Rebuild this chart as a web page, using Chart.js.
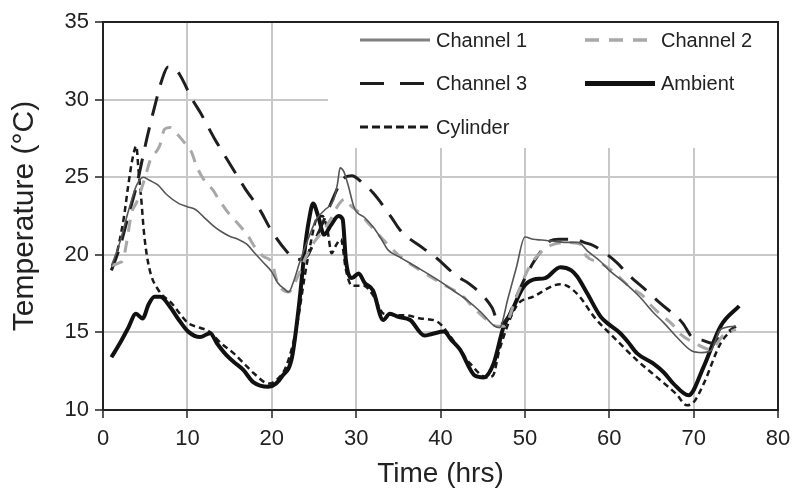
<!DOCTYPE html>
<html>
<head>
<meta charset="utf-8">
<script src="https://cdn.jsdelivr.net/npm/chart.js@4/dist/chart.umd.min.js"></script>
<style>
  html, body { margin: 0; padding: 0; background: #fff; }
  #wrap { position: relative; width: 793px; height: 497px; }
</style>
</head>
<body>
<div id="wrap"><canvas id="tempChart" width="793" height="497"></canvas></div>
<script>
// series (time in hrs, temperature in degC)
const ch1Time = [1, 2, 3, 4, 4.8, 5.5, 6.5, 7.5, 9, 10, 11, 12, 13, 14, 15, 16, 17, 18, 19, 20, 20.7, 21.5, 22, 22.6, 23.3, 24.3, 25.3, 26.3, 27.3, 27.8, 28.1, 28.5, 29, 29.8, 31, 32, 33, 33.8, 35, 37.2, 39.9, 41.5, 43.1, 44.8, 46.4, 47, 48, 49, 50, 51, 52, 53.8, 55, 56.3, 57.5, 58.9, 60, 61.6, 63.6, 65.2, 66.5, 68, 69.8, 71, 72, 73.2, 75];
const ch1Temp = [19.3, 20.8, 22.8, 24.5, 25.0, 24.8, 24.5, 23.9, 23.3, 23.1, 22.9, 22.4, 21.9, 21.5, 21.2, 21.0, 20.7, 20.1, 19.5, 18.9, 18.2, 17.8, 17.6, 18.3, 19.5, 21.0, 22.3, 22.9, 23.5, 24.6, 25.6, 25.4, 24.6, 23.0, 22.4, 21.8, 21.0, 20.3, 19.9, 19.2, 18.3, 17.7, 17.1, 16.3, 15.4, 15.3, 17.2, 19.2, 21.15, 21.0, 20.95, 20.85, 20.8, 20.8, 20.2, 19.6, 19.0, 18.3, 17.3, 16.3, 15.6, 14.7, 13.8, 13.7, 13.8, 15.2, 15.4];

const ch2Time = [1, 2, 2.4, 2.8, 3.4, 4, 5, 5.6, 6.7, 7.3, 8, 8.6, 9.7, 10.5, 11.1, 12, 13, 13.8, 15, 16, 17.2, 18, 19, 20, 20.7, 22, 23, 24, 25, 26, 27, 28, 28.7, 29.3, 30.4, 31.5, 33, 35, 37.6, 40, 42.7, 43.9, 45.5, 46.7, 47.5, 49, 50.5, 51.6, 53, 55, 56.5, 57.3, 58.9, 60.5, 62.5, 63.9, 65.2, 66, 67.5, 68.4, 70.2, 72, 73.5, 75];
const ch2Temp = [19.3, 19.5, 19.7, 20.8, 22.7, 23.4, 25.0, 26.1, 27.0, 28.1, 28.2, 27.9, 27.2, 26.6, 25.7, 24.8, 24.2, 23.5, 22.6, 22.0, 21.2, 20.5, 19.9, 19.5, 18.2, 17.6, 18.5, 19.8, 20.8, 21.5, 22.3, 23.3, 23.6, 23.2, 22.7, 22.0, 21.1, 20.0, 19.0, 18.2, 17.3, 16.6, 15.8, 15.4, 15.4, 17.3, 19.2, 20.0, 20.6, 20.8, 20.7, 19.9, 19.5, 18.9, 17.9, 17.4, 16.6, 16.2, 15.5, 14.9, 14.3, 13.9, 14.8, 15.2];

const ch3Time = [1, 2, 3, 4, 4.6, 5.2, 6.1, 7, 7.7, 8.5, 9.1, 10.6, 11.5, 13.2, 14.2, 16, 16.8, 18.7, 19.8, 21.8, 23, 24, 25, 26, 27, 28, 28.7, 29.5, 30.8, 32, 34.2, 35.2, 38, 39.3, 42, 43.5, 46.1, 47, 48, 49, 50, 51, 52, 53, 54, 55, 56, 57, 58.1, 60.9, 62.1, 64.6, 66, 68.7, 69.8, 71, 72.2, 73, 74, 75];
const ch3Temp = [19.0, 20.5, 22.5, 24.5, 26.0, 27.5, 29.5, 31.3, 32.1, 32.0, 31.6, 30.0, 29.2, 27.5, 26.6, 25.0, 24.3, 22.8, 21.7, 20.2, 19.7, 19.8, 20.8, 22.0, 23.3, 24.5, 25.0, 25.1, 24.6, 24.0, 22.4, 21.6, 20.4, 19.9, 18.6, 18.1, 16.6, 15.5, 16.0, 17.3, 18.5, 19.5, 20.3, 20.9, 21.0, 21.0, 21.0, 20.8, 20.6, 19.5, 18.8, 17.6, 16.9, 15.6, 14.7, 14.5, 14.3, 14.6, 15.0, 15.4];

const ambTime = [1, 2, 3, 3.9, 4.7, 5.4, 6.1, 6.8, 8, 9, 10.1, 11.5, 12.7, 13.5, 14.6, 15.5, 16.6, 17.8, 19.6, 20.5, 21.2, 22.4, 23.3, 23.9, 24.4, 24.9, 25.5, 26.2, 27, 27.9, 28.4, 28.8, 29.5, 30.3, 31, 32, 33.2, 34, 35, 36.4, 38.1, 39, 40.4, 41.3, 42.3, 44.1, 45.1, 46.3, 47.5, 48.3, 49.8, 51, 52.4, 54.2, 55.5, 56.2, 57.4, 59, 60, 61.3, 62.2, 63.3, 65.2, 66.5, 67.6, 69.4, 71.2, 73.2, 75.4];
const ambTemp = [13.4, 14.3, 15.3, 16.2, 15.9, 16.8, 17.3, 17.3, 16.6, 15.8, 15.05, 14.7, 14.95, 14.3, 13.55, 13.1, 12.6, 11.8, 11.5, 11.7, 12.15, 13.4, 17.1, 20.3, 22.2, 23.3, 22.5, 21.3, 21.9, 22.5, 22.3, 19.6, 18.5, 18.8, 18.2, 17.7, 15.8, 16.2, 16.0, 15.8, 14.8, 14.9, 15.05, 14.5, 13.9, 12.2, 12.1, 13.0, 15.4, 16.2, 17.9, 18.4, 18.5, 19.2, 19.0, 18.6, 17.5, 16.0, 15.5, 14.95, 14.4, 13.65, 13.0, 12.4, 11.7, 10.95, 12.8, 15.4, 16.7];

const cylTime = [1, 1.5, 2, 2.5, 3, 3.5, 3.95, 4.2, 4.5, 4.9, 5.5, 6.6, 8.1, 10.1, 11.5, 12.6, 14, 15.5, 16.7, 17.8, 19.7, 20.7, 21.7, 22.9, 23.9, 24.7, 25.3, 26, 26.6, 27.1, 27.6, 28.2, 28.8, 29.5, 30.9, 32, 33.3, 36, 37.6, 39.6, 41.5, 43.5, 45.5, 46.2, 47, 49, 51, 54.2, 55, 56.5, 58.2, 60.5, 63.3, 66, 68, 69.2, 70, 71.2, 73.2, 74.9];
const cylTemp = [19.0, 19.8, 21.0, 22.5, 24.5, 26.2, 27.0, 25.5, 23.8, 21.2, 19.1, 17.7, 16.9, 15.6, 15.3, 15.05, 14.3, 13.65, 13.0, 12.4, 11.7, 12.0, 12.8, 15.2, 18.6, 21.0, 22.3, 22.5, 21.6, 20.1, 20.6, 21.0, 19.0, 18.0, 18.0, 17.4, 16.2, 16.1, 15.9, 15.7, 14.5, 13.0, 12.1, 12.2, 13.9, 16.7, 17.3, 18.1, 18.0, 17.3, 16.0, 14.7, 13.2, 11.95, 11.0, 10.3, 10.5, 11.7, 14.3, 15.35];

const xTicks = [0, 10, 20, 30, 40, 50, 60, 70, 80];
const yTicks = [10, 15, 20, 25, 30, 35];
const seriesNames = ['Channel 1', 'Channel 2', 'Channel 3', 'Ambient', 'Cylinder'];

const FONT = '"Liberation Sans", Arial, Helvetica, sans-serif';
const pts = (xs, ys) => xs.map((x, i) => ({ x, y: ys[i] }));

const styles = [
  { color: '#555555', width: 1.6, dash: [], legendColor: '#808080', legendWidth: 3, legendDash: [] },
  { color: '#a8a8a8', width: 3, dash: [12, 9], legendColor: '#a8a8a8', legendWidth: 3.5, legendDash: [14, 10] },
  { color: '#1e1e1e', width: 3, dash: [20, 12], legendColor: '#1e1e1e', legendWidth: 3, legendDash: [24, 16] },
  { color: '#111111', width: 4, dash: [], legendColor: '#111111', legendWidth: 5, legendDash: [] },
  { color: '#1a1a1a', width: 2.5, dash: [6, 4], legendColor: '#1a1a1a', legendWidth: 3, legendDash: [8, 4] }
];
const seriesData = [pts(ch1Time, ch1Temp), pts(ch2Time, ch2Temp), pts(ch3Time, ch3Temp), pts(ambTime, ambTemp), pts(cylTime, cylTemp)];

// legend box sits inside the plot, top right, on a white patch over the grid
const boxLegend = {
  id: 'boxLegend',
  beforeDatasetsDraw(chart) {
    const { ctx, chartArea: a } = chart;
    ctx.save();
    ctx.fillStyle = '#fff';
    ctx.fillRect(a.left + 225, a.top, a.right - a.left - 225, 126);
    ctx.strokeStyle = '#222';
    ctx.lineWidth = 2;
    ctx.beginPath();
    ctx.moveTo(a.left, a.top);
    ctx.lineTo(a.right, a.top);
    ctx.lineTo(a.right, a.bottom);
    ctx.stroke();
    ctx.restore();
  },
  afterDraw(chart) {
    const { ctx, chartArea: a } = chart;
    ctx.save();
    ctx.font = '20px ' + FONT;
    ctx.textBaseline = 'middle';
    ctx.fillStyle = '#222';
    seriesNames.forEach((name, i) => {
      const col = i % 2, row = Math.floor(i / 2);
      const x0 = a.left + (col ? 482 : 257);
      const y = a.top + 18 + row * 43.5;
      const s = styles[i];
      ctx.strokeStyle = s.legendColor;
      ctx.lineWidth = s.legendWidth;
      ctx.setLineDash(s.legendDash);
      ctx.beginPath();
      ctx.moveTo(x0, y);
      ctx.lineTo(x0 + 70, y);
      ctx.stroke();
      ctx.setLineDash([]);
      ctx.fillText(name, x0 + 76, y + 1);
    });
    ctx.restore();
  }
};

new Chart(document.getElementById('tempChart'), {
  type: 'scatter',
  data: {
    datasets: seriesNames.map((name, i) => ({
      label: name,
      data: seriesData[i],
      showLine: true,
      borderColor: styles[i].color,
      borderWidth: styles[i].width,
      borderDash: styles[i].dash,
      pointRadius: 0,
      cubicInterpolationMode: 'monotone',
      fill: false
    }))
  },
  options: {
    responsive: false,
    animation: false,
    events: [],
    layout: { padding: { left: 0, right: 15, top: 22, bottom: 0 } },
    plugins: { legend: { display: false }, tooltip: { enabled: false } },
    scales: {
      x: {
        type: 'linear',
        min: 0, max: 80,
        afterBuildTicks: s => { s.ticks = xTicks.map(v => ({ value: v })); },
        afterFit: s => { s.height = 87; s.paddingLeft = 0; s.paddingRight = 0; },
        grid: { color: '#c8c8c8', lineWidth: 2, tickColor: '#222', tickLength: 8, tickWidth: 1.5 },
        border: { color: '#222', width: 2 },
        ticks: { color: '#222', padding: 8, font: { family: FONT, size: 22 } },
        title: { display: true, text: 'Time (hrs)', color: '#222', font: { family: FONT, size: 28 }, padding: { top: 0, bottom: 6 } }
      },
      y: {
        type: 'linear',
        min: 10, max: 35,
        afterBuildTicks: s => { s.ticks = yTicks.map(v => ({ value: v })); },
        afterFit: s => { s.width = 103; s.paddingTop = 0; s.paddingBottom = 0; },
        grid: { color: '#c8c8c8', lineWidth: 2, tickColor: '#222', tickLength: 8, tickWidth: 1.5 },
        border: { color: '#222', width: 2 },
        ticks: { color: '#222', padding: 6, font: { family: FONT, size: 22 } },
        title: { display: true, text: 'Temperature (°C)', color: '#222', font: { family: FONT, size: 30 }, padding: { top: 7, bottom: 0 } }
      }
    }
  },
  plugins: [boxLegend]
});
</script>
</body>
</html>
